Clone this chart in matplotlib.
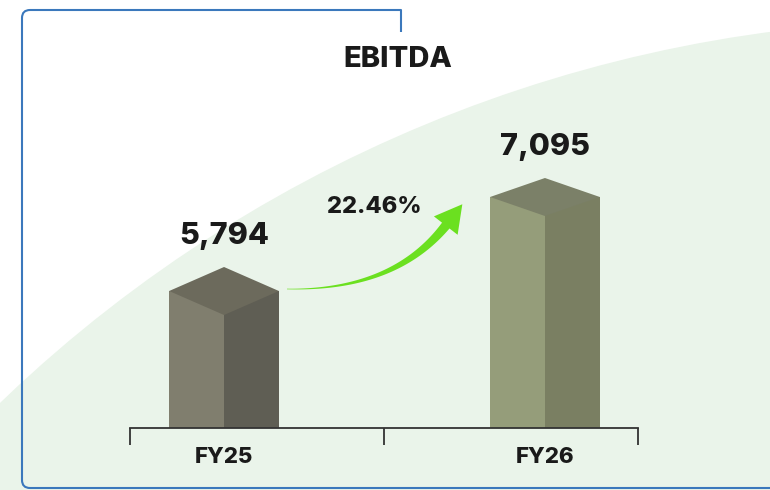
import numpy as np
import matplotlib
matplotlib.use("Agg")
import matplotlib.pyplot as plt
from matplotlib.patches import Circle, Polygon, PathPatch
from matplotlib.path import Path

# ---- data ----
categories = ["FY25", "FY26"]
values = [5794, 7095]
value_labels = ["5,794", "7,095"]
growth_label = "22.46%"
title = "EBITDA"

# ---- style ----
FONT = "Inter"
WEIGHT = 800
left_colors = ["#807E6E", "#959D7A"]
right_colors = ["#5F5E54", "#7A7F62"]
top_colors = ["#6C6A5C", "#7B8068"]
depth_px = [24, 19]
BG_GREEN = "#EAF4EA"
BLUE = "#3B78BC"
TEXT = "#1A1A1A"

W, H = 770, 490
fig = plt.figure(figsize=(W / 100, H / 100), dpi=100)
fig.patch.set_facecolor("white")

# overlay axes in pixel coordinates (y downward)
ov = fig.add_axes([0, 0, 1, 1], zorder=0)
ov.set_xlim(0, W)
ov.set_ylim(H, 0)
ov.axis("off")

# light green arc background
ov.add_patch(Circle((950, 1390), 1370, facecolor=BG_GREEN, edgecolor="none"))

# blue frame
r = 8
verts = [(401, 32), (401, 10), (22 + r, 10), (22, 10), (22, 10 + r),
         (22, 488 - r), (22, 488), (22 + r, 488), (771, 488)]
codes = [Path.MOVETO, Path.LINETO, Path.LINETO, Path.CURVE3, Path.CURVE3,
         Path.LINETO, Path.CURVE3, Path.CURVE3, Path.LINETO]
ov.add_patch(PathPatch(Path(verts, codes), facecolor="none", edgecolor=BLUE,
                       lw=1.5, capstyle="butt", joinstyle="round"))

# title
ov.text(398, 67, title, ha="center", va="baseline", fontsize=21,
        fontweight=WEIGHT, family=FONT, color=TEXT)

# growth arrow (tapered curve)
P0 = np.array([287.0, 289.0])
P1 = np.array([395.0, 291.0])
P2 = np.array([447.0, 224.0])
t = np.linspace(0, 1, 80)[:, None]
pts = (1 - t) ** 2 * P0 + 2 * (1 - t) * t * P1 + t ** 2 * P2
der = 2 * (1 - t) * (P1 - P0) + 2 * t * (P2 - P1)
tan = der / np.linalg.norm(der, axis=1)[:, None]
nrm = np.column_stack([-tan[:, 1], tan[:, 0]])
hw = (0.3 + 4.5 * t[:, 0] ** 1.3)[:, None]
upper = pts + nrm * hw
lower = pts - nrm * hw
shaft = np.vstack([upper, lower[::-1]])
ov.add_patch(Polygon(shaft, closed=True, facecolor="#6BE020", edgecolor="none"))
d_end = tan[-1]
n_end = nrm[-1]
base_c = P2 - d_end * 2
tip = base_c + d_end * 27
head = [tip, base_c + n_end * 15, base_c - n_end * 15]
ov.add_patch(Polygon(head, closed=True, facecolor="#6BE020", edgecolor="none"))

ov.text(374, 213, growth_label, ha="center", va="baseline", fontsize=17,
        fontweight=WEIGHT, family=FONT, color=TEXT)

# ---- data axes ----
ax = fig.add_axes([130 / W, 62 / H, 508 / W, 418 / H], zorder=1)
ax.patch.set_alpha(0)
x_lo, x_hi = -0.293, 1.29
y_lo, y_hi = 3898, 9683
ax.set_xlim(x_lo, x_hi)
ax.set_ylim(y_lo, y_hi)
px_per_unit_y = 418 / (y_hi - y_lo)

x = np.arange(len(categories))
hw_bar = 0.171
ax.bar(x - hw_bar / 2, values, width=hw_bar, color=left_colors, linewidth=0)
ax.bar(x + hw_bar / 2, values, width=hw_bar, color=right_colors, linewidth=0)

for i, (xi, v) in enumerate(zip(x, values)):
    d = depth_px[i] / px_per_unit_y
    ax.add_patch(Polygon([(xi, v + d), (xi - hw_bar, v), (xi, v - d), (xi + hw_bar, v)],
                         closed=True, facecolor=top_colors[i], edgecolor="none"))
    ax.annotate(value_labels[i], (xi, v + d), xytext=(0, 16.5), textcoords="offset points",
                ha="center", va="baseline", fontsize=22, fontweight=WEIGHT,
                family=FONT, color=TEXT)

for s in ["top", "left", "right"]:
    ax.spines[s].set_visible(False)
ax.spines["bottom"].set_color("#333333")
ax.spines["bottom"].set_linewidth(1.3)
ax.set_yticks([])
ax.set_xticks(x)
ax.set_xticklabels(categories, fontsize=16, fontweight=WEIGHT, family=FONT, color=TEXT)
ax.tick_params(axis="x", which="major", length=0, pad=14)
ax.set_xticks([x_lo, 0.5, x_hi], minor=True)
ax.tick_params(axis="x", which="minor", length=12.3, width=1.3, color="#333333",
               direction="out")

fig.savefig("out.png", dpi=100)
